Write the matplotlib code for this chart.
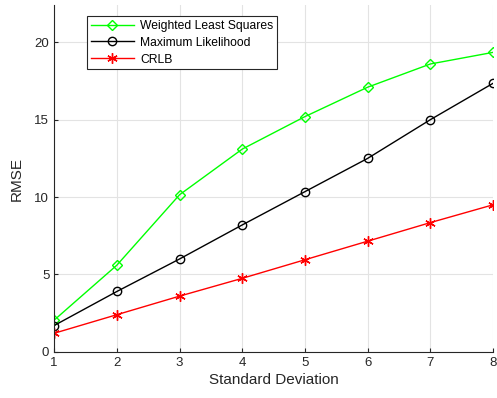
import matplotlib
matplotlib.use('Agg')
import matplotlib.pyplot as plt

plt.rcParams['font.family'] = ['Liberation Sans', 'DejaVu Sans']

std_dev = [1, 2, 3, 4, 5, 6, 7, 8]
wls = [2.05, 5.6, 10.15, 13.1, 15.2, 17.1, 18.6, 19.35]
ml = [1.7, 3.9, 6.0, 8.2, 10.35, 12.5, 15.0, 17.35]
crlb = [1.2, 2.4, 3.6, 4.75, 5.95, 7.15, 8.35, 9.5]

fig = plt.figure(figsize=(4.97, 3.98), dpi=100)
ax = fig.add_axes([0.109, 0.116, 0.883, 0.871])

ax.plot(std_dev, wls, color=(0, 1, 0), marker='D', markersize=5.5, mfc='none',
        lw=1, label='Weighted Least Squares')
ax.plot(std_dev, ml, color='black', marker='o', markersize=6, mfc='none',
        lw=1, label='Maximum Likelihood')
ax.plot(std_dev, crlb, color='red', marker=(6, 2, 0), markersize=7.5,
        lw=1, label='CRLB')

ax.set_xlim(1, 8)
ax.set_ylim(0, 22.4)
ax.set_xticks(std_dev)
ax.set_yticks([0, 5, 10, 15, 20])
ax.grid(True, color='#e3e3e3', lw=0.8)
ax.set_axisbelow(True)
for s in ['top', 'right']:
    ax.spines[s].set_visible(False)
for s in ['left', 'bottom']:
    ax.spines[s].set_color('#262626')
ax.tick_params(labelsize=9.5, colors='#262626', direction='in', length=3)
ax.set_xlabel('Standard Deviation', fontsize=11, color='#262626', labelpad=3)
ax.set_ylabel('RMSE', fontsize=11, color='#262626', labelpad=8)

leg = ax.legend(loc='upper left', bbox_to_anchor=(0.075, 0.968), fontsize=8.7,
                fancybox=False, framealpha=1, edgecolor='#262626',
                borderpad=0.3, labelspacing=0.4, handlelength=3.6,
                handletextpad=0.5, borderaxespad=0)
leg.get_frame().set_linewidth(0.8)

fig.savefig('out.png', dpi=100)
